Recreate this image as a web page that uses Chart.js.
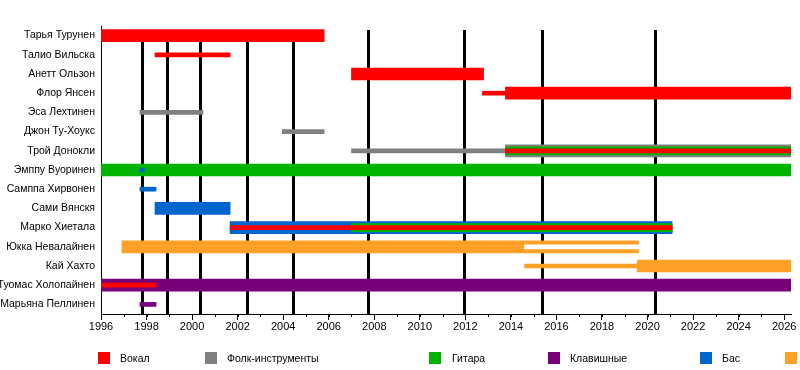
<!DOCTYPE html>
<html>
<head>
<meta charset="utf-8">
<script src="https://cdn.jsdelivr.net/npm/chart.js@4"></script>
<style>
  html, body { margin: 0; padding: 0; background: #fff; }
  #wrap { position: relative; width: 800px; height: 370px; overflow: hidden; }
  #legend { position: absolute; left: 0; top: 0; width: 800px; height: 370px; pointer-events: none; }
  .sw { position: absolute; top: 352px; width: 12px; height: 12px; }
  .lb { position: absolute; top: 351px; font: 10.5px "Liberation Sans", Arial, sans-serif; color: #000; white-space: nowrap; line-height: 14px; }
</style>
</head>
<body>
<div id="wrap">
  <canvas id="c" width="800" height="370"></canvas>
  <div id="legend"></div>
</div>
<script>
// ---- data ----
const members = ['Тарья Турунен','Талио Вильска','Анетт Ользон','Флор Янсен','Эса Лехтинен','Джон Ту-Хоукс','Трой Донокли','Эмппу Вуоринен','Самппа Хирвонен','Сами Вянскя','Марко Хиетала','Юкка Невалайнен','Кай Хахто','Туомас Холопайнен','Марьяна Пеллинен'];
const roles = ['vocal','folk','guitar','keys','bass','drums'];
const roleNames = ['Вокал','Фолк-инструменты','Гитара','Клавишные','Бас','Ударные'];
const roleColors = ['#ff0000','#808080','#00b300','#780078','#0066cc','#ffa029'];
const startYear = 1996;
const endYear = 2026.3;
const tickYears = [1996,1998,2000,2002,2004,2006,2008,2010,2012,2014,2016,2018,2020,2022,2024,2026];
const albumYears = [1997.79, 1998.91, 2000.36, 2002.39, 2004.41, 2007.72, 2011.93, 2015.35, 2020.32];

// main role periods [member, role, from, to]
const mainPeriods = [
  ['Тарья Турунен','vocal',1996,2005.8],
  ['Анетт Ользон','vocal',2007.0,2012.8],
  ['Флор Янсен','vocal',2013.76,endYear],
  ['Трой Донокли','folk',2013.76,endYear],
  ['Эмппу Вуоринен','guitar',1996,endYear],
  ['Сами Вянскя','bass',1998.37,2001.67],
  ['Марко Хиетала','bass',2001.67,2021.08],
  ['Юкка Невалайнен','drums',1996.92,2019.6],
  ['Кай Хахто','drums',2019.55,endYear],
  ['Туомас Холопайнен','keys',1996,endYear]
];
// second role periods
const secondPeriods = [
  ['Трой Донокли','guitar',2013.76,endYear],
  ['Марко Хиетала','guitar',2007.0,2021.08]
];
// minor / session / third role periods
const minorPeriods = [
  ['Талио Вильска','vocal',1998.37,2001.67],
  ['Флор Янсен','vocal',2012.75,2013.76],
  ['Эса Лехтинен','folk',1997.71,2000.48],
  ['Джон Ту-Хоукс','folk',2003.96,2005.8],
  ['Трой Донокли','folk',2007.0,2013.76],
  ['Трой Донокли','vocal',2013.76,endYear],
  ['Эмппу Вуоринен','bass',1997.71,1997.9],
  ['Самппа Хирвонен','bass',1997.71,1998.42],
  ['Марко Хиетала','vocal',2001.67,2021.08],
  ['Кай Хахто','drums',2014.6,2019.55],
  ['Туомас Холопайнен','vocal',1996,1998.42],
  ['Марьяна Пеллинен','keys',1997.71,1998.42]
];
// inactive periods [member, from, to]
const inactivePeriods = [
  ['Юкка Невалайнен',2014.6,2019.6]
];

// ---- build ----
const colorOf = r => roleColors[roles.indexOf(r)];
const toPoints = arr => arr.map(p => ({ y: p[0], x: [p[2], p[3]], c: colorOf(p[1]) }));

Chart.defaults.color = '#000';
Chart.defaults.font.family = '"Liberation Sans", Arial, sans-serif';
Chart.defaults.font.size = 11;

const albumLines = {
  id: 'albumLines',
  beforeDatasetsDraw(chart) {
    const { ctx, chartArea, scales: { x } } = chart;
    ctx.save();
    ctx.strokeStyle = '#000';
    ctx.lineWidth = 3;
    albumYears.forEach(v => {
      const px = Math.round(x.getPixelForValue(v)) + 0.5;
      ctx.beginPath();
      ctx.moveTo(px, chartArea.top + 4);
      ctx.lineTo(px, chartArea.bottom);
      ctx.stroke();
    });
    ctx.restore();
  },
  afterDraw(chart) {
    const { ctx, chartArea, scales: { x } } = chart;
    ctx.save();
    ctx.strokeStyle = '#000';
    ctx.lineWidth = 1;
    for (let yv = startYear; yv <= Math.floor(endYear); yv++) {
      const px = Math.round(x.getPixelForValue(yv)) + 0.5;
      ctx.beginPath();
      ctx.moveTo(px, chartArea.bottom);
      ctx.lineTo(px, chartArea.bottom + 3);
      ctx.stroke();
    }
    ctx.restore();
  }
};

const bg = ctx => ctx.raw ? ctx.raw.c : '#000';

new Chart(document.getElementById('c'), {
  type: 'bar',
  data: {
    labels: members,
    datasets: [
      { label: 'main', data: toPoints(mainPeriods), backgroundColor: bg, barThickness: 12, order: 4, grouped: false, borderWidth: 0, borderSkipped: false },
      { label: 'second', data: toPoints(secondPeriods), backgroundColor: bg, barThickness: 8, order: 3, grouped: false, borderWidth: 0, borderSkipped: false },
      { label: 'minor', data: toPoints(minorPeriods), backgroundColor: bg, barThickness: 4, order: 2, grouped: false, borderWidth: 0, borderSkipped: false },
      { label: 'inactive', data: inactivePeriods.map(p => ({ y: p[0], x: [p[1], p[2]], c: '#ffffff' })), backgroundColor: bg, barThickness: 4, order: 1, grouped: false, borderWidth: 0, borderSkipped: false }
    ]
  },
  options: {
    indexAxis: 'y',
    responsive: false,
    animation: false,
    events: [],
    layout: { padding: { top: 26, right: 9, left: 0, bottom: 0 } },
    plugins: { legend: { display: false }, tooltip: { enabled: false } },
    scales: {
      x: {
        type: 'linear',
        min: startYear,
        max: endYear,
        afterBuildTicks: s => { s.ticks = tickYears.map(v => ({ value: v })); },
        afterFit: s => { s.height = 56; },
        ticks: { callback: v => String(v), padding: 0, maxRotation: 0, autoSkip: false, color: '#000' },
        grid: { drawOnChartArea: false, drawTicks: true, tickLength: 6, color: '#000' },
        border: { display: true, color: '#000', width: 1 }
      },
      y: {
        type: 'category',
        afterFit: s => { s.width = 101; },
        ticks: { padding: 6, color: '#000', autoSkip: false, font: { size: 10.5 } },
        grid: { display: false, drawTicks: false },
        border: { display: true, color: '#000', width: 1 }
      }
    }
  },
  plugins: [albumLines]
});

// ---- legend ----
const legendSwatchX = [98, 205, 429, 548, 700, 785];
const legendTextX = [120, 227, 452, 570, 722, 807];
const lg = document.getElementById('legend');
roleNames.forEach((n, i) => {
  const s = document.createElement('div');
  s.className = 'sw'; s.style.left = legendSwatchX[i] + 'px'; s.style.background = roleColors[i];
  lg.appendChild(s);
  const t = document.createElement('div');
  t.className = 'lb'; t.style.left = legendTextX[i] + 'px'; t.textContent = n;
  lg.appendChild(t);
});
</script>
</body>
</html>
